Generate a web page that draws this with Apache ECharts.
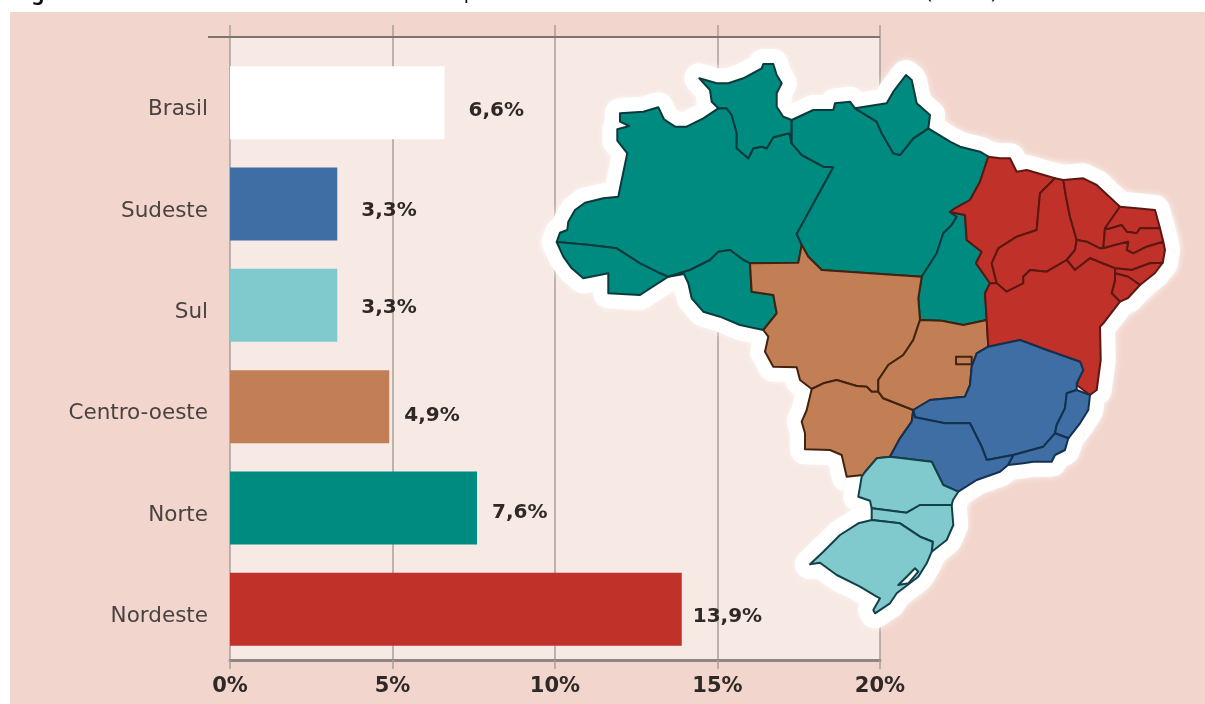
<!DOCTYPE html>
<html>
<head>
<meta charset="utf-8">
<title>Brasil</title>
<style>
	html, body { margin: 0; padding: 0; background: #fff; }
	#chart { width: 1205px; height: 704px; }
</style>
<script src="https://cdn.jsdelivr.net/npm/echarts@6/dist/echarts.min.js"></script>
</head>
<body>
<div id="chart"></div>
<script>
// dados do grafico
var regionNames = ['Brasil', 'Sudeste', 'Sul', 'Centro-oeste', 'Norte', 'Nordeste'];
var regionValues = [6.6, 3.3, 3.3, 4.9, 7.6, 13.9];
var xTicks = [0, 5, 10, 15, 20];

// cores de cada regiao
var regionColors = {
	'Brasil': '#ffffff',
	'Sudeste': '#3f6ea5',
	'Sul': '#80c9cc',
	'Centro-oeste': '#c27f55',
	'Norte': '#008b80',
	'Nordeste': '#c0312a'
};
var regionBorders = {
	'Sudeste': '#12314f',
	'Sul': '#14404a',
	'Centro-oeste': '#43230f',
	'Norte': '#0b3a3d',
	'Nordeste': '#5c1712'
};

// cada rotulo fica num lugar um pouco diferente na figura
var labelShift = [[24, 8], [24, 7], [24, 2], [15, 9], [15, 5], [11, 7]];

// contorno dos estados, tracado sobre a figura (x, y da pagina)
var stateShapes = {
	AM: ['Norte', [[556.7,242],[560,232.7],[567.3,230],[568.3,221.7],[575,210],[585,202.7],[603.3,198.3],[618.3,196.7],[621.7,180],[627.3,153.3],[617.3,140.7],[617.3,129.3],[629.3,126],[620,121.7],[620,113.3],[643.3,111.7],[658.3,107.3],[664,119.3],[675,126.7],[686.7,126.7],[703.3,118.3],[718.3,108.3],[726.7,108.3],[731.7,115],[736.7,133.3],[736.7,148.3],[748.3,158.3],[753.3,148.3],[761.7,146.7],[766.7,148.3],[773.3,137.3],[789.3,133.3],[791.7,143.3],[801.7,155],[823.3,166.7],[833.3,167.3],[796.7,234],[801.7,245],[798.3,262.7],[750,263.3],[743.3,260],[730,250],[718.3,251.7],[710,260],[690,270],[668.3,276.7],[660,273.3],[640,263.3],[616.7,248.3],[590,245]]],
	AC: ['Norte', [[556.7,242],[590,245],[616.7,248.3],[640,263.3],[660,273.3],[668.3,276.7],[650,288.3],[640,295],[608.3,293.3],[608.3,273.3],[583.3,278.3],[571.7,268.3],[563.3,256.7]]],
	RO: ['Norte', [[668.3,276.7],[690,270],[710,260],[718.3,251.7],[730,250],[743.3,260],[750,263.3],[751.7,291.7],[773.3,295],[776.7,313.3],[763.3,330],[740,325],[720,316.7],[703.3,311.7],[691.7,298.3],[688.3,283.3],[684,274]]],
	RR: ['Norte', [[699.3,78.3],[716.7,83.3],[728.3,83.3],[743.3,78.3],[761.7,68.3],[763.3,64],[773.3,64],[776.7,75],[781.7,83.3],[776.7,93.3],[776.7,106.7],[783.3,116.7],[791.7,120],[791.7,143.3],[789.3,133.3],[773.3,137.3],[766.7,148.3],[761.7,146.7],[753.3,148.3],[748.3,158.3],[736.7,148.3],[736.7,133.3],[731.7,115],[726.7,108.3],[718.3,108.3],[711.7,101.7],[710,90]]],
	PA: ['Norte', [[791.7,120],[813.3,110],[833.3,110],[835,103.3],[850,101.7],[855,108.3],[876.7,121.7],[881.7,133.3],[893.3,153.3],[900,155],[913.3,138.3],[928.3,128.3],[950,141.7],[960,146.7],[980,151.7],[988.3,156.7],[980,181.7],[970,200],[955,208.3],[950,212],[956.7,216.7],[951.7,225],[943.3,233.3],[936.7,253.3],[921.7,276.7],[821.7,270],[808.3,256.7],[801.7,245],[796.7,234],[833.3,167.3],[823.3,166.7],[801.7,155],[791.7,143.3]]],
	AP: ['Norte', [[855,108.3],[886.7,103.3],[893.3,91.7],[906,75],[911.7,80],[916.7,103.3],[930,115],[928.3,128.3],[913.3,138.3],[900,155],[893.3,153.3],[881.7,133.3],[876.7,121.7]]],
	TO: ['Norte', [[950,212],[965,215],[966.7,240],[981.7,251.7],[976,263.3],[990,283.3],[985,293.3],[986.7,320],[963.3,325],[941.7,320.7],[920,320],[918.3,298.3],[921.7,276.7],[936.7,253.3],[943.3,233.3],[951.7,225],[956.7,216.7]]],
	MT: ['Centro-oeste', [[750,263.3],[798.3,262.7],[801.7,245],[808.3,256.7],[821.7,270],[921.7,276.7],[918.3,298.3],[920,320],[913.3,340],[903.3,355],[888.3,365],[878.3,380],[878.3,391.7],[871.7,391.7],[866.7,386.7],[856.7,386],[836.7,380],[823.3,383.3],[811.7,389],[800,380],[796.7,367.3],[773.3,366.7],[765,351.7],[768.3,336.7],[763.3,330],[776.7,313.3],[773.3,295],[751.7,291.7]]],
	MS: ['Centro-oeste', [[811.7,389],[823.3,383.3],[836.7,380],[856.7,386],[866.7,386.7],[871.7,391.7],[878.3,391.7],[883.3,398.3],[913.3,410],[911.7,421.7],[900,438.3],[890,456.7],[876.7,458.3],[865,472],[863.3,475],[846.7,476.7],[841.7,455],[830,450],[805,449.3],[805,433.3],[801.7,421.7],[806.7,410]]],
	GO: ['Centro-oeste', [[920,320],[941.7,320.7],[963.3,325],[986.7,320],[988.3,346.7],[976.7,353.3],[971.7,366.7],[970,385],[965,396.7],[930,400],[913.3,410],[883.3,398.3],[878.3,391.7],[878.3,380],[888.3,365],[903.3,355],[913.3,340]]],
	DF: ['Centro-oeste', [[956,356.7],[971.7,356.7],[971.7,364.3],[956,364.3]]],
	MA: ['Nordeste', [[988.3,156.7],[1000,158.3],[1010,158.3],[1016.7,171.7],[1026.7,170],[1055,178.3],[1040,193.3],[1038.3,211.7],[1036.7,230],[1016.7,236.7],[998.3,248.3],[991.7,263.3],[996.7,283.3],[990,283.3],[976,263.3],[981.7,251.7],[966.7,240],[965,215],[950,212],[955,208.3],[970,200],[980,181.7]]],
	PI: ['Nordeste', [[1055,178.3],[1063.3,180],[1066,196.7],[1070,216.7],[1076.7,240],[1075,250],[1066.7,260],[1046.7,271.7],[1030,270],[1023.3,276.7],[1023.3,283.3],[1006.7,291.7],[996.7,283.3],[991.7,263.3],[998.3,248.3],[1016.7,236.7],[1036.7,230],[1038.3,211.7],[1040,193.3]]],
	CE: ['Nordeste', [[1063.3,180],[1083.3,178.3],[1096.7,185],[1120,206.7],[1105,228.3],[1103.3,248.3],[1100,248.3],[1086.7,241.7],[1076.7,240],[1070,216.7],[1066,196.7]]],
	RN: ['Nordeste', [[1120,206.7],[1136.7,208.3],[1155,210],[1160,228.3],[1140,228.3],[1136.7,233.3],[1126.7,231.7],[1121.7,225],[1108.3,229],[1105,228.3]]],
	PB: ['Nordeste', [[1105,228.3],[1108.3,229],[1121.7,225],[1126.7,231.7],[1136.7,233.3],[1140,228.3],[1160,228.3],[1163.3,241.7],[1146.7,246.7],[1133.3,253.3],[1126.7,250],[1128.3,241.7],[1115,245],[1103.3,248.3]]],
	PE: ['Nordeste', [[1076.7,240],[1086.7,241.7],[1100,248.3],[1103.3,248.3],[1115,245],[1128.3,241.7],[1126.7,250],[1133.3,253.3],[1146.7,246.7],[1163.3,241.7],[1165,250],[1162.7,262.7],[1150,263.3],[1131.7,270],[1115,268.3],[1106.7,265],[1090,258.3],[1075,270],[1066.7,260],[1075,250]]],
	AL: ['Nordeste', [[1115,268.3],[1131.7,270],[1150,263.3],[1162.7,262.7],[1155,273],[1140,285],[1128.3,276.7],[1115,273.3]]],
	SE: ['Nordeste', [[1115,273.3],[1128.3,276.7],[1140,285],[1128,298],[1120,301.7],[1111.7,293.3],[1115,280]]],
	BA: ['Nordeste', [[985,293.3],[990,283.3],[996.7,283.3],[1006.7,291.7],[1023.3,283.3],[1023.3,276.7],[1030,270],[1046.7,271.7],[1066.7,260],[1075,270],[1090,258.3],[1106.7,265],[1115,268.3],[1115,280],[1111.7,293.3],[1120,301.7],[1103.3,323.3],[1100,326.7],[1100.7,360],[1096.7,390],[1090,395],[1076.7,385],[1080,375],[1083.3,370],[1080,361.7],[1046.7,350],[1020,340],[988.3,346.7],[986.7,320]]],
	MG: ['Sudeste', [[988.3,346.7],[1020,340],[1046.7,350],[1080,361.7],[1083.3,370],[1076.7,383.3],[1076.7,390],[1066.7,393.3],[1065,408.3],[1056.7,425],[1055,433.3],[1043.3,446.7],[1013.3,455],[986.7,460],[981.7,446.7],[976.7,436.7],[970,423.3],[945,423.3],[915,417.3],[913.3,410],[930,400],[965,396.7],[970,385],[971.7,366.7],[976.7,353.3]]],
	ES: ['Sudeste', [[1076.7,390],[1090,395],[1088.3,410],[1080,423.3],[1068.3,438.3],[1055,433.3],[1056.7,425],[1065,408.3],[1066.7,393.3]]],
	RJ: ['Sudeste', [[1055,433.3],[1068.3,438.3],[1065,450],[1055,455],[1051.7,461.7],[1033.3,461.7],[1023.3,463.3],[1008,465],[1013.3,455],[1043.3,446.7]]],
	SP: ['Sudeste', [[915,417.3],[945,423.3],[970,423.3],[976.7,436.7],[981.7,446.7],[986.7,460],[1013.3,455],[1008,465],[1000,471.7],[976.7,480],[958.3,491.7],[943.3,485],[931.7,461.7],[890,456.7],[900,438.3],[911.7,421.7],[913.3,410]]],
	PR: ['Sul', [[876.7,458.3],[890,456.7],[931.7,461.7],[943.3,485],[958.3,491.7],[953,500],[951.7,505],[920,505],[906.7,512.7],[871.7,508.3],[870,500.7],[858.3,496.7],[861.7,476.7],[865,472]]],
	SC: ['Sul', [[871.7,508.3],[906.7,512.7],[920,505],[951.7,505],[953.3,525],[946.7,540],[931.7,551.7],[932.7,541.7],[920,536.7],[900,523.3],[871.7,520]]],
	RS: ['Sul', [[871.7,520],[900,523.3],[920,536.7],[932.7,541.7],[931.7,551.7],[926.7,563.3],[918.3,576.7],[896.7,593.3],[890,603.3],[875,613.3],[873.3,610],[880,598.3],[876.7,596.7],[860,586.7],[836.7,575],[820,562.7],[810,564.3],[823.3,551.7],[840,535],[858.3,523.3]]],
	Lagoa: ['Brasil', [[915,568.3],[918.3,571.7],[908.3,583.3],[898.3,585],[906.7,576.7]]]
};

// a pagina usa y para baixo, o geojson usa y para cima
var features = Object.keys(stateShapes).map(function (name) {
	var ring = stateShapes[name][1].map(function (p) { return [p[0], -p[1]]; });
	ring.push(ring[0]);
	return {
		type: 'Feature',
		properties: { name: name },
		geometry: { type: 'Polygon', coordinates: [ring] }
	};
});
echarts.registerMap('brasil', { type: 'FeatureCollection', features: features });

var mapBox = { left: 540, top: 50, width: 640, height: 580 };
var mapBounds = [[540, -50], [1180, -630]];

var stateRegions = Object.keys(stateShapes).map(function (name) {
	var region = stateShapes[name][0];
	return {
		name: name,
		itemStyle: {
			areaColor: regionColors[region],
			borderColor: regionBorders[region] || '#14404a'
		}
	};
});

var myChart = echarts.init(document.getElementById('chart'), null, { renderer: 'canvas' });

var fragments = [['g', 38, 'bold', -16], ['p', 470, 'normal', -18], ['(', 929, 'normal', -18], [')', 994, 'normal', -18]];

var option = {
	animation: false,
	textStyle: { fontFamily: '"DejaVu Sans", sans-serif' },
	graphic: {
		elements: [
			{ type: 'rect', z: -3, silent: true, shape: { x: 10, y: 12, width: 1195, height: 692 }, style: { fill: '#f2d6cd' } },
			{ type: 'rect', z: -2, silent: true, shape: { x: 230, y: 37, width: 650, height: 623 }, style: { fill: '#f7e9e4' } },
			{ type: 'line', z: 1, silent: true, shape: { x1: 208, y1: 37, x2: 880, y2: 37 }, style: { stroke: '#7d7370', lineWidth: 2 } }
		].concat(fragments.map(function (f) {
			// o titulo esta cortado na figura, so sobra o pe das letras
			return {
				type: 'text', z: 1, silent: true, x: f[1], y: f[3],
				style: { text: f[0], fill: '#111', font: f[2] + ' 20px "Noto Sans"', textAlign: 'center' }
			};
		}))
	},
	grid: [
		{ left: 230, width: 650, top: 52, height: 608 },
		{ left: 230, width: 650, top: 25, height: 27 }
	],
	xAxis: [{
		type: 'value',
		gridIndex: 0,
		min: xTicks[0],
		max: xTicks[xTicks.length - 1],
		interval: 5,
		axisLine: { show: true, lineStyle: { color: '#8f8683', width: 3 } },
		axisTick: { show: true, length: 9, lineStyle: { color: '#a89e9b', width: 1.5 } },
		axisLabel: {
			margin: 16,
			color: '#2e2826',
			fontSize: 21,
			fontWeight: 'bold',
			formatter: '{value}%'
		},
		splitLine: { show: true, lineStyle: { color: '#a89e9b', width: 1.5 } }
	}, {
		type: 'value',
		gridIndex: 1,
		min: xTicks[0],
		max: xTicks[xTicks.length - 1],
		interval: 5,
		axisLine: { show: false },
		axisTick: { show: false },
		axisLabel: { show: false },
		splitLine: { show: true, lineStyle: { color: '#a89e9b', width: 1.5 } }
	}],
	yAxis: [{
		type: 'category',
		gridIndex: 0,
		inverse: true,
		data: regionNames,
		axisLine: { show: false },
		axisTick: { show: false },
		axisLabel: { margin: 22, color: '#4a4240', fontSize: 21.5, verticalAlign: 'top', lineHeight: 14 }
	}, {
		type: 'category',
		gridIndex: 1,
		data: [''],
		axisLine: { show: false },
		axisTick: { show: false },
		axisLabel: { show: false }
	}],
	geo: [{
		map: 'brasil',
		z: 3,
		silent: true,
		roam: false,
		aspectScale: 1,
		boundingCoords: mapBounds,
		left: mapBox.left,
		top: mapBox.top,
		width: mapBox.width,
		height: mapBox.height,
		label: { show: false },
		itemStyle: {
			areaColor: '#ffffff',
			borderColor: '#ffffff',
			borderWidth: 30,
			borderJoin: 'round',
			shadowColor: '#fdf6f3',
			shadowBlur: 6
		}
	}, {
		map: 'brasil',
		z: 4,
		silent: true,
		roam: false,
		aspectScale: 1,
		boundingCoords: mapBounds,
		left: mapBox.left,
		top: mapBox.top,
		width: mapBox.width,
		height: mapBox.height,
		label: { show: false },
		itemStyle: { borderWidth: 2, borderJoin: 'round' },
		regions: stateRegions
	}],
	series: [{
		type: 'bar',
		xAxisIndex: 0,
		yAxisIndex: 0,
		barWidth: 73,
		data: regionValues.map(function (v, i) {
			return {
				value: v,
				itemStyle: { color: regionColors[regionNames[i]] },
				label: { offset: [labelShift[i][0] - 5, labelShift[i][1]] }
			};
		}),
		label: {
			show: true,
			position: 'right',
			distance: 5,
			color: '#2e2826',
			fontSize: 20,
			fontWeight: 'bold',
			formatter: function (p) {
				return String(p.value).replace('.', ',') + '%';
			}
		}
	}]
};

myChart.setOption(option);

window.onresize = function () {
	myChart.resize();
};
</script>
</body>
</html>
